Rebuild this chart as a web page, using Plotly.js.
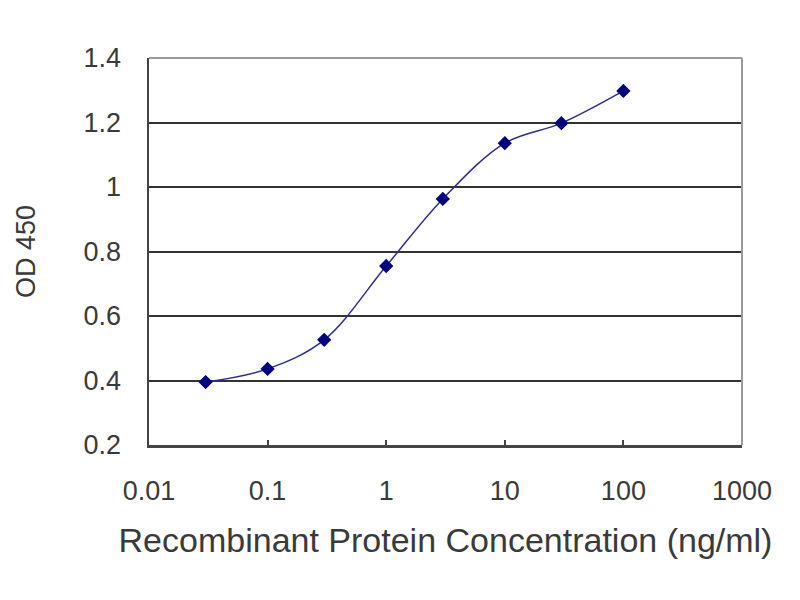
<!DOCTYPE html>
<html>
<head>
<meta charset="utf-8">
<script src="https://cdn.plot.ly/plotly-3.0.1.min.js"></script>
<style>
  html, body { margin: 0; padding: 0; background: #fff; }
  #chart { width: 800px; height: 600px; }
</style>
</head>
<body>
<div id="chart"></div>
<script>
// ELISA standard curve: OD 450 vs concentration (log x)
const concentration = [0.03, 0.1, 0.3, 1, 3, 10, 30, 100];
const od450 = [0.395, 0.436, 0.526, 0.755, 0.963, 1.136, 1.198, 1.298];

const xTickVals = [0.01, 0.1, 1, 10, 100, 1000];
const xTickText = ['0.01', '0.1', '1', '10', '100', '1000'];
const yTickVals = [0.2, 0.4, 0.6, 0.8, 1.0, 1.2, 1.4];
const yTickText = ['0.2', '0.4', '0.6', '0.8', '1', '1.2', '1.4'];

const FONT = '"Liberation Sans", Arial, sans-serif';
const TEXT = '#3a3a3a';

const traces = [{
  x: concentration, y: od450,
  mode: 'lines+markers',
  line: { color: '#2e2e90', width: 1.5, shape: 'spline', smoothing: 1 },
  marker: { symbol: 'diamond', size: 11, color: '#000080' },
  showlegend: false,
}];

const layout = {
  width: 800, height: 600,
  paper_bgcolor: '#ffffff',
  plot_bgcolor: '#ffffff',
  font: { family: FONT, color: TEXT },
  margin: { l: 149, r: 58, t: 58, b: 155 },
  xaxis: {
    type: 'log', range: [-2, 3],
    tickvals: xTickVals, ticktext: xTickText,
    tickfont: { size: 27, color: TEXT },
    ticks: 'inside', ticklen: 5, tickwidth: 2, tickcolor: '#444',
    ticklabelstandoff: 20,
    showgrid: false, zeroline: false,
    showline: true, linecolor: '#444', linewidth: 2.5,
    title: { text: 'Recombinant Protein Concentration (ng/ml)', font: { size: 34, color: TEXT }, standoff: 24 },
  },
  yaxis: {
    range: [0.2, 1.4],
    tickvals: yTickVals, ticktext: yTickText,
    tickfont: { size: 27, color: TEXT },
    ticks: '', ticklabelstandoff: 20,
    showgrid: true, gridcolor: '#333', gridwidth: 2,
    zeroline: false,
    showline: true, linecolor: '#444', linewidth: 2.5,
    title: { text: 'OD 450', font: { size: 27, color: TEXT }, standoff: 40 },
  },
  shapes: [
    { type: 'line', xref: 'paper', yref: 'paper', x0: 0, x1: 1, y0: 1, y1: 1, line: { color: '#999', width: 2 }, layer: 'above' },
    { type: 'line', xref: 'paper', yref: 'paper', x0: 1, x1: 1, y0: 0, y1: 1, line: { color: '#999', width: 2 }, layer: 'above' },
  ],
};

Plotly.newPlot('chart', traces, layout, { displayModeBar: false, staticPlot: true });
</script>
</body>
</html>
